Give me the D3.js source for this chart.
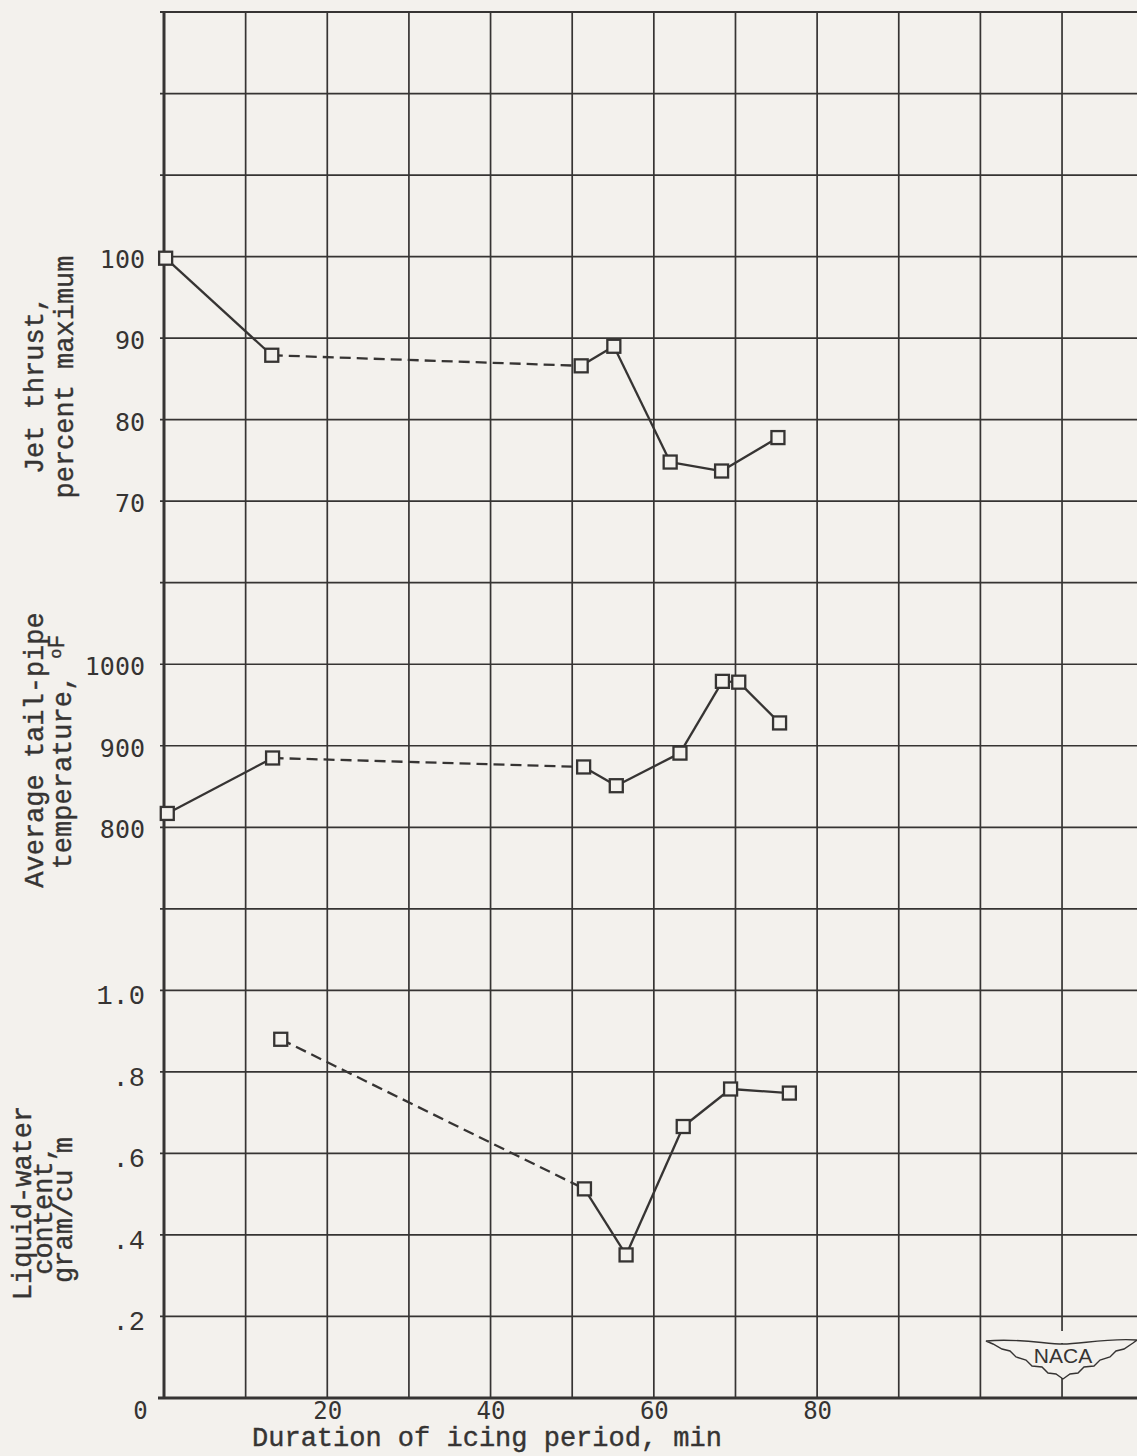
<!DOCTYPE html>
<html><head><meta charset="utf-8">
<script src="https://cdn.jsdelivr.net/npm/d3@7"></script>
<style>
html,body{margin:0;padding:0;background:#f3f1ed;}
svg{display:block;}
</style></head><body>
<script>
// ---- data ----
const thrustTime  = [0.2, 13.2, 51.1, 55.1, 62.0, 68.3, 75.2];
const thrustValue = [99.8, 87.9, 86.6, 89.0, 74.8, 73.7, 77.8];
const thrustDashed = [1];           // segment index starting a dashed piece

const tempTime  = [0.4, 13.3, 51.4, 55.4, 63.2, 68.4, 70.4, 75.4];
const tempValue = [817, 885, 874, 851, 891, 979, 978, 928];
const tempDashed = [1];

const lwcTime  = [14.3, 51.5, 56.6, 63.6, 69.4, 76.6];
const lwcValue = [0.88, 0.513, 0.351, 0.666, 0.758, 0.748];
const lwcDashed = [0];

const timeTicks   = [0, 20, 40, 60, 80];
const thrustTicks = [70, 80, 90, 100];
const tempTicks   = [800, 900, 1000];
const lwcTicks    = [0.2, 0.4, 0.6, 0.8, 1.0];

const xTitle = "Duration of icing period, min";
const thrustTitle = ["Jet thrust,", "percent maximum"];
const tempTitle = ["Average tail-pipe", "temperature, "];
const lwcTitle = ["Liquid-water", "content,", "gram/cu m"];

// ---- layout ----
const W = 1137, H = 1456;
const BG = "#f3f1ed", INK = "#363433";
const MONO = "'Liberation Mono','Courier New',monospace";
const NUM = "'DejaVu Sans Mono',monospace";

const svg = d3.select("body").append("svg").attr("width", W).attr("height", H);
svg.append("rect").attr("width", W).attr("height", H).attr("fill", BG);

const x = d3.scaleLinear().domain([0, 120]).range([164, 164 + 12 * 81.64]);
const row = d3.scaleLinear().domain([0, 17]).range([12, 1398]);
const yThrust = d3.scaleLinear().domain([70, 100]).range([row(6), row(3)]);
const yTemp = d3.scaleLinear().domain([800, 1000]).range([row(10), row(8)]);
const yLwc = d3.scaleLinear().domain([0, 1]).range([row(17), row(12)]);

// ---- grid ----
const grid = svg.append("g").attr("stroke", INK).attr("fill", "none");
grid.selectAll("line.v").data(d3.range(10, 120, 10)).join("line")
  .attr("class", "v")
  .attr("x1", d => x(d)).attr("x2", d => x(d))
  .attr("y1", row(0)).attr("y2", row(17))
  .attr("stroke-width", 1.7);
grid.selectAll("line.h").data(d3.range(0, 17)).join("line")
  .attr("class", "h")
  .attr("x1", x(0) - 4).attr("x2", W)
  .attr("y1", d => row(d)).attr("y2", d => row(d))
  .attr("stroke-width", d => d === 0 ? 2 : 1.7);
// axes (heavier)
grid.append("line").attr("x1", x(0)).attr("x2", x(0)).attr("y1", row(0) - 1).attr("y2", row(17) + 1)
  .attr("stroke-width", 3);
grid.append("line").attr("x1", x(0) - 6).attr("x2", W).attr("y1", row(17)).attr("y2", row(17))
  .attr("stroke-width", 3);

// ---- NACA logo ----
const logo = svg.append("g");
const wing = "M986,1341 C1020,1338 1045,1344 1063,1344 C1081,1344 1106,1338 1137,1340 " +
  "L1133,1343 L1124,1349 L1116,1351 L1110,1357 L1100,1360 L1094,1366 L1084,1367 L1078,1373 L1070,1374 " +
  "L1063,1379 L1056,1374 L1048,1373 L1042,1367 L1032,1366 L1026,1360 L1016,1357 L1010,1351 L1002,1349 L993,1344 Z";
logo.append("rect").attr("x", x(110) - 3).attr("y", 1331).attr("width", 6).attr("height", 12).attr("fill", BG);
logo.append("path").attr("d", wing).attr("fill", BG).attr("stroke", INK).attr("stroke-width", 1.4);
logo.append("text").attr("x", 1063).attr("y", 1363).attr("text-anchor", "middle")
  .attr("font-family", "'Liberation Sans',Arial,sans-serif").attr("font-size", 21)
  .attr("fill", INK).text("NACA");

// ---- series ----
function drawSeries(times, values, yScale, dashed) {
  const pts = times.map((t, i) => [x(t), yScale(values[i])]);
  const line = d3.line();
  const g = svg.append("g").attr("fill", "none").attr("stroke", INK).attr("stroke-width", 2.3);
  for (let i = 0; i < pts.length - 1; i++) {
    g.append("path").attr("d", line([pts[i], pts[i + 1]]))
      .attr("stroke-dasharray", dashed.includes(i) ? "11,6" : null);
  }
  svg.append("g").selectAll("rect").data(pts).join("rect")
    .attr("x", d => d[0] - 6.5).attr("y", d => d[1] - 6.5)
    .attr("width", 13).attr("height", 13)
    .attr("fill", BG).attr("stroke", INK).attr("stroke-width", 2.3);
}
drawSeries(thrustTime, thrustValue, yThrust, thrustDashed);
drawSeries(tempTime, tempValue, yTemp, tempDashed);
drawSeries(lwcTime, lwcValue, yLwc, lwcDashed);

// ---- axes labels ----
function leftAxis(scale, ticks, fmt, font, size, dy) {
  const g = svg.append("g").attr("transform", `translate(${x(0)},0)`)
    .call(d3.axisLeft(scale).tickValues(ticks).tickSize(0).tickPadding(19).tickFormat(fmt));
  g.select(".domain").remove();
  g.selectAll("text").attr("font-family", font).attr("font-size", size)
    .attr("fill", INK).attr("dy", dy);
}
leftAxis(yThrust, thrustTicks, d3.format("d"), NUM, 25, "0.42em");
leftAxis(yTemp, tempTicks, d3.format("d"), NUM, 25, "0.42em");
leftAxis(yLwc, lwcTicks, d => d === 1 ? "1.0" : d3.format(".1f")(d).replace(/^0/, ""), MONO, 27, "0.5em");

const gx = svg.append("g").attr("transform", `translate(0,${row(17)})`)
  .call(d3.axisBottom(x).tickValues(timeTicks).tickSize(0).tickPadding(4).tickFormat(d3.format("d")));
gx.select(".domain").remove();
gx.selectAll("text").attr("font-family", NUM).attr("font-size", 24).attr("fill", INK)
  .attr("dx", d => d === 0 ? -24 : 0);

svg.append("text").attr("x", 487).attr("y", 1446).attr("text-anchor", "middle")
  .attr("font-family", MONO).attr("font-size", 27).attr("fill", INK)
  .attr("stroke", INK).attr("stroke-width", 0.4).text(xTitle);

// rotated titles
function vTitle(lines, baselines, centers) {
  lines.forEach((s, i) => {
    svg.append("text")
      .attr("transform", `translate(${baselines[i]},${centers[i]}) rotate(-90)`)
      .attr("text-anchor", "middle")
      .attr("font-family", MONO).attr("font-size", 27).attr("fill", INK)
      .attr("stroke", INK).attr("stroke-width", 0.4)
      .text(s);
  });
}
vTitle(thrustTitle, [43, 73], [385, 377]);
vTitle([tempTitle[0]], [43], [750]);
// temperature line with degree-F superscript
const t2 = svg.append("text")
  .attr("transform", `translate(71,752) rotate(-90)`)
  .attr("text-anchor", "middle")
  .attr("font-family", MONO).attr("font-size", 27).attr("fill", INK)
  .attr("stroke", INK).attr("stroke-width", 0.4);
t2.append("tspan").text(tempTitle[1]);
t2.append("tspan").attr("font-size", 17).attr("dy", -10).text("o");
t2.append("tspan").attr("font-size", 23).attr("dy", 3).text("F");
vTitle(lwcTitle, [31, 52, 72], [1203, 1210, 1210]);
</script>
</body></html>
